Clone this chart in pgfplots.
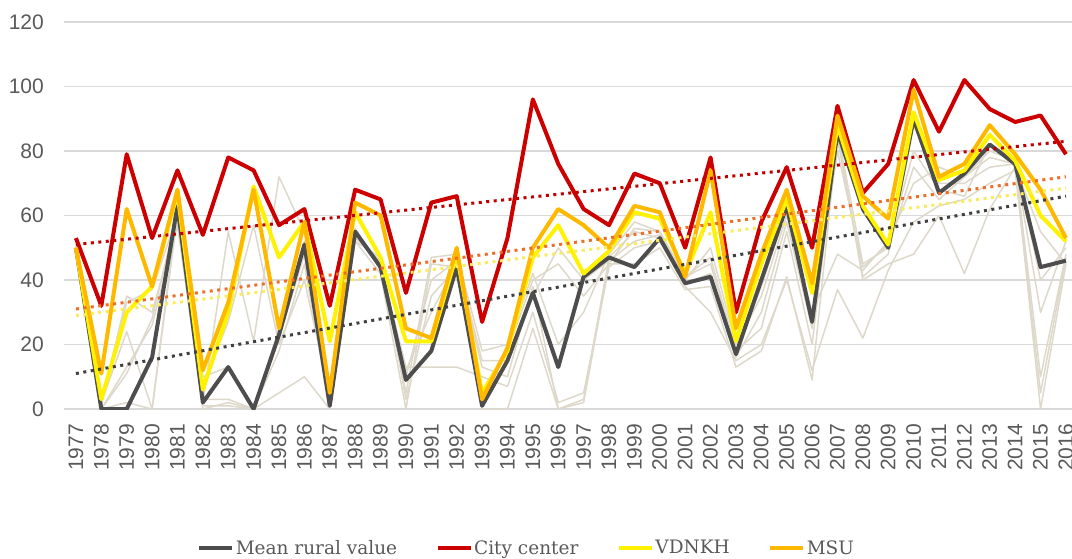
\documentclass[border=0pt]{standalone}
\usepackage{pgfplots}
\usepackage{pgfplotstable}
\pgfplotsset{compat=1.18}
\usepackage{fontspec}
\newfontfamily\tickfont{Liberation Sans}
\newfontfamily\legfont{DejaVu Serif}
\definecolor{gridgray}{RGB}{217,217,217}
\definecolor{tickgray}{RGB}{89,89,89}
\definecolor{ruralgray}{RGB}{77,77,77}
\definecolor{cityred}{RGB}{204,0,0}
\definecolor{vdyellow}{RGB}{255,242,0}
\definecolor{msuorange}{RGB}{255,184,0}
\definecolor{beige}{RGB}{221,216,202}
\definecolor{trred}{RGB}{192,0,0}
\definecolor{trorange}{RGB}{237,110,40}
\definecolor{tryellow}{RGB}{250,235,90}
\definecolor{trgray}{RGB}{64,64,64}

\pgfplotstableread{
year rural city vdnkh msu r1 r2 r3 r4 r5 r6
1977 50 53 50 50 49 50 50 51 50 49
1978 0 32 3 11 0 1 2 0 0 3
1979 0 79 30 62 2 35 24 13 11 33
1980 16 53 38 38 0 30 0 26 28 37
1981 63 74 67 68 60 58 62 57 61 60
1982 2 54 6 12 0 2 8 1 3 10
1983 13 78 30 33 2 55 27 1 3 13
1984 0 74 69 68 0 21 57 0 0 0
1985 23 57 47 25 18 72 20 5 22 25
1986 51 62 58 58 45 55 40 10 48 52
1987 1 32 21 5 0 2 4 0 1 3
1988 55 68 61 64 52 55 54 53 56 52
1989 44 65 47 60 42 45 44 46 43 47
1990 9 36 21 25 0 5 13 10 12 3
1991 18 64 21 22 45 47 13 40 30 35
1992 44 66 48 50 44 48 13 46 45 44
1993 1 27 5 3 0 18 10 15 13 5
1994 15 53 18 19 0 20 7 15 10 18
1995 36 96 47 50 25 42 30 35 38 40
1996 13 76 57 62 0 20 2 50 0 45
1997 41 62 42 57 2 30 5 40 3 35
1998 47 57 49 50 45 48 44 46 47 45
1999 44 73 61 63 45 58 50 52 55 56
2000 53 70 59 61 50 55 52 54 53 55
2001 39 50 42 41 37 40 38 41 39 41
2002 41 78 61 74 38 50 30 45 42 47
2003 17 30 21 25 13 20 15 18 16 18
2004 40 58 45 48 18 35 20 25 30 38
2005 63 75 65 68 41 60 40 55 58 62
2006 27 50 36 39 9 30 12 20 25 28
2007 86 94 88 91 85 48 37 86 84 80
2008 62 67 63 66 40 43 22 45 41 44
2009 50 76 51 59 45 52 43 50 48 51
2010 90 102 92 99 48 70 58 75 88 80
2011 67 86 71 72 60 75 63 65 70 68
2012 73 102 74 76 42 72 65 72 70 66
2013 82 93 85 88 62 80 70 78 75 82
2014 76 89 77 79 75 77 74 76 76 75
2015 44 91 60 68 0 40 5 30 10 55
2016 46 79 52 53 45 50 47 52 48 45
}\datatable

\begin{document}
\begin{tikzpicture}
\useasboundingbox (0,0) rectangle (1072pt,558pt);
\begin{axis}[
  at={(64pt,149pt)}, anchor=south west,
  scale only axis, width=1008pt, height=387pt,
  xmin=1976.53, xmax=2016.24, ymin=0, ymax=120,
  xtick={1977,...,2016}, ytick={0,20,...,120},
  axis line style={draw=none},
  major tick length=0pt,
  ymajorgrids, grid style={color=gridgray, line width=1.5pt},
  /pgf/number format/1000 sep={},
  /pgf/number format/assume math mode=true,
  ticklabel style={font=\tickfont\fontsize{21}{21}\selectfont, text=tickgray, inner sep=0pt},
  yticklabel style={anchor=east, xshift=-20pt},
  xticklabel style={yshift=-15pt, rotate=90, anchor=east},
  legend columns=4,
  legend style={at={(axis description cs:0.132,-0.359)}, anchor=west, draw=none, fill=none,
    font=\legfont\fontsize{18.5}{18.5}\selectfont, text=tickgray,
    inner sep=0pt,
    nodes={inner sep=1.5pt},
    /tikz/every even column/.append style={column sep=37pt}},
  legend image code/.code={\draw[#1] (0pt,0pt) -- (33pt,0pt);},
  line join=round,
]
\foreach \c in {r1,r2,r3,r4,r5,r6}{
  \addplot[beige, line width=1.5pt, forget plot] table[x=year, y=\c] {\datatable};
}
\addplot[ruralgray, line width=4pt] table[x=year, y=rural] {\datatable};
\addlegendentry{Mean rural value}
\addplot[cityred, line width=4pt] table[x=year, y=city] {\datatable};
\addlegendentry{City center}
\addplot[vdyellow, line width=4pt] table[x=year, y=vdnkh] {\datatable};
\addlegendentry{VDNKH}
\addplot[msuorange, line width=4pt] table[x=year, y=msu] {\datatable};
\addlegendentry{MSU}
\addplot[trred, line width=3pt, dash pattern=on 3pt off 4.5pt, forget plot] coordinates {(1977,51) (2016,83)};
\addplot[trorange, line width=3pt, dash pattern=on 3pt off 4.5pt, forget plot] coordinates {(1977,31) (2016,72)};
\addplot[tryellow, line width=3pt, dash pattern=on 3pt off 4.5pt, forget plot] coordinates {(1977,29) (2016,68.5)};
\addplot[trgray, line width=3pt, dash pattern=on 3pt off 4.5pt, forget plot] coordinates {(1977,11) (2016,66)};
\end{axis}
\end{tikzpicture}
\end{document}
